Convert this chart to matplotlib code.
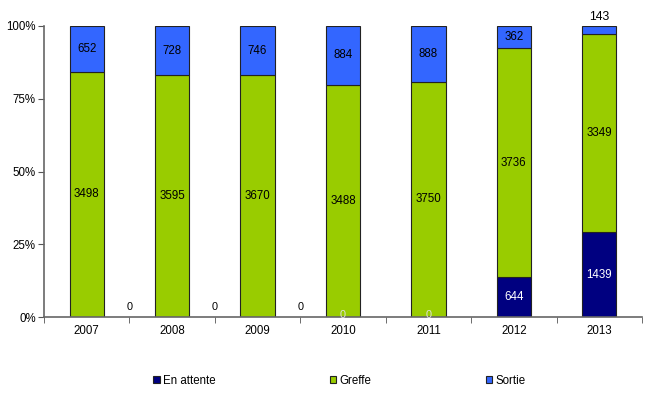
import numpy as np
import matplotlib
matplotlib.use("Agg")
import matplotlib.pyplot as plt
from matplotlib.ticker import FixedLocator

plt.rcParams['font.family'] = ['Liberation Sans', 'DejaVu Sans']

years = ['2007', '2008', '2009', '2010', '2011', '2012', '2013']
en_attente = [0, 0, 0, 0, 0, 644, 1439]
greffe = [3498, 3595, 3670, 3488, 3750, 3736, 3349]
sortie = [652, 728, 746, 884, 888, 362, 143]
names = ['En attente', 'Greffe', 'Sortie']
colors = ['#000080', '#99CC00', '#3366FF']

series = np.array([en_attente, greffe, sortie], dtype=float)
pct = series / series.sum(axis=0) * 100

fig = plt.figure(figsize=(6.5, 3.93), dpi=100)
ax = fig.add_axes([44/650, 76/393, 598/650, 291/393])

x = np.arange(len(years))
bottom = np.zeros(len(years))
fsz = 8.3
for k in range(3):
    ax.bar(x, pct[k], 0.4, bottom=bottom, color=colors[k], edgecolor='#222222',
           linewidth=0.8, label=names[k])
    for i in range(len(years)):
        v = series[k][i]
        if k == 0 and v == 0:
            # zero labels as they appear in the source
            if i < 3:
                ax.text(i + 0.5, 3.5, '0', ha='center', va='center', fontsize=fsz - 0.5)
            else:
                ax.text(i, 0.8, '0', ha='center', va='center', fontsize=fsz - 0.5, color='#e0e0e0')
            continue
        if k == 2 and pct[k][i] < 5:
            ax.text(i, 100 + 1, '%d' % v, ha='center', va='bottom', fontsize=fsz + 0.5)
            continue
        c = 'white' if k == 0 else 'black'
        ax.text(i, bottom[i] + pct[k][i] / 2, '%d' % v, ha='center', va='center',
                fontsize=fsz, color=c)
    bottom += pct[k]

ax.set_xlim(-0.5, len(years) - 0.5)
ax.set_ylim(0, 100)
ax.set_yticks([0, 25, 50, 75, 100])
ax.set_yticklabels(['0%', '25%', '50%', '75%', '100%'], fontsize=fsz)
ax.set_xticks(x)
ax.set_xticklabels(years, fontsize=fsz)
ax.tick_params(axis='x', length=0, pad=6)
ax.xaxis.set_minor_locator(FixedLocator(np.arange(-0.5, len(years), 1.0)))
ax.tick_params(axis='x', which='minor', length=4, direction='out', color='#555555')
ax.tick_params(axis='y', length=4, direction='out', color='#555555', pad=2)
for s in ['top', 'right']:
    ax.spines[s].set_visible(False)
for s in ['left', 'bottom']:
    ax.spines[s].set_color('#666666')
    ax.spines[s].set_linewidth(1.2)

fig.legend(loc='center', bbox_to_anchor=(0.522, 1 - 381/393), ncol=3, frameon=False,
           fontsize=fsz, handlelength=0.55, handleheight=0.55, handletextpad=0.3,
           columnspacing=9.9)

fig.savefig('out.png', dpi=100)
